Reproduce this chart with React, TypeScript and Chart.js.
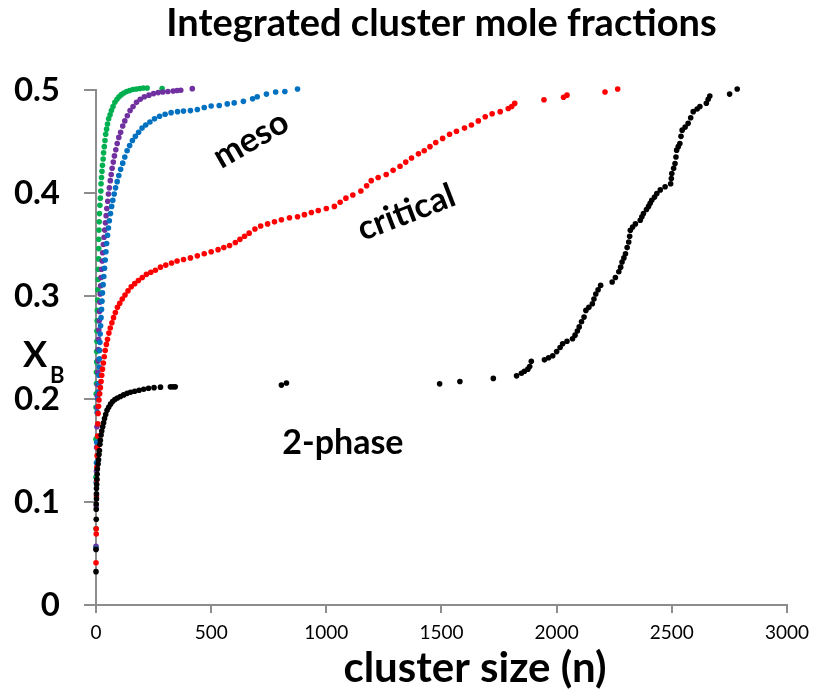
import React, { useEffect, useRef } from "react";
import { Chart, registerables } from "chart.js";

Chart.register(...registerables);

const TITLE = "Integrated cluster mole fractions";
const X_TITLE = "cluster size (n)";
const X_TICKS = [0, 500, 1000, 1500, 2000, 2500, 3000];
const Y_TICKS = [0, 0.1, 0.2, 0.3, 0.4, 0.5];

const greenX = [0, 0, 0, 0, 1, 2, 2, 3, 3, 4, 4, 5, 6, 7, 8, 9, 10, 11, 12, 12, 13, 14, 15, 17, 19, 21, 22, 24, 26, 28, 31, 33, 36, 39, 42, 46, 50, 55, 61, 67, 74, 82, 91, 100, 110, 121, 133, 146, 160, 175, 190, 205, 222, 287];
const greenY = [0.074, 0.124, 0.161, 0.192, 0.205, 0.215, 0.226, 0.236, 0.246, 0.256, 0.266, 0.276, 0.286, 0.296, 0.306, 0.316, 0.326, 0.336, 0.346, 0.355, 0.364, 0.372, 0.38, 0.388, 0.395, 0.402, 0.409, 0.415, 0.421, 0.427, 0.433, 0.439, 0.445, 0.451, 0.457, 0.462, 0.467, 0.472, 0.476, 0.48, 0.484, 0.488, 0.491, 0.4935, 0.4955, 0.497, 0.4985, 0.4995, 0.5005, 0.501, 0.5015, 0.502, 0.502, 0.5015];

const purpleX = [0, 1, 2, 3, 4, 5, 6, 7, 8, 9, 10, 11, 12, 14, 15, 17, 18, 20, 22, 24, 27, 29, 32, 35, 38, 41, 44, 47, 51, 54, 58, 62, 66, 70, 75, 80, 86, 92, 99, 107, 116, 125, 136, 148, 161, 176, 192, 210, 230, 250, 270, 290, 312, 335, 352, 368, 418];
const purpleY = [0.057, 0.096, 0.13, 0.153, 0.173, 0.192, 0.203, 0.214, 0.226, 0.237, 0.248, 0.258, 0.267, 0.276, 0.285, 0.294, 0.302, 0.31, 0.318, 0.326, 0.334, 0.342, 0.35, 0.357, 0.364, 0.371, 0.378, 0.385, 0.392, 0.399, 0.405, 0.412, 0.418, 0.424, 0.43, 0.436, 0.442, 0.448, 0.454, 0.459, 0.465, 0.47, 0.475, 0.48, 0.484, 0.488, 0.491, 0.4935, 0.495, 0.4965, 0.4975, 0.498, 0.4985, 0.499, 0.4995, 0.4997, 0.5013];

const blueX = [0, 1, 2, 3, 5, 8, 10, 12, 13, 14, 15, 16, 17, 18, 20, 22, 24, 26, 28, 31, 34, 37, 40, 43, 46, 50, 54, 58, 63, 68, 73, 79, 85, 92, 99, 107, 116, 125, 135, 146, 158, 171, 185, 200, 216, 234, 254, 276, 300, 326, 354, 380, 410, 440, 470, 500, 535, 570, 600, 640, 680, 700, 740, 780, 820, 875];
const blueY = [0.055, 0.119, 0.138, 0.158, 0.187, 0.2, 0.207, 0.215, 0.223, 0.231, 0.239, 0.247, 0.255, 0.263, 0.271, 0.279, 0.287, 0.295, 0.303, 0.311, 0.319, 0.327, 0.335, 0.343, 0.351, 0.359, 0.366, 0.373, 0.38, 0.387, 0.393, 0.399, 0.405, 0.411, 0.417, 0.423, 0.429, 0.435, 0.441, 0.446, 0.451, 0.455, 0.459, 0.463, 0.466, 0.469, 0.472, 0.4745, 0.4765, 0.478, 0.479, 0.4795, 0.48, 0.481, 0.483, 0.4845, 0.485, 0.4865, 0.4875, 0.489, 0.4915, 0.4935, 0.496, 0.498, 0.4985, 0.501];

const redX = [0, 1, 1, 2, 3, 4, 5, 6, 7, 8, 9, 11, 13, 16, 19, 22, 25, 28, 32, 36, 40, 45, 50, 56, 62, 69, 76, 84, 93, 103, 114, 126, 139, 153, 168, 184, 201, 219, 238, 258, 280, 303, 328, 352, 380, 410, 440, 470, 500, 530, 555, 580, 605, 625, 645, 665, 690, 715, 745, 775, 805, 840, 875, 905, 935, 965, 1000, 1035, 1060, 1085, 1115, 1150, 1175, 1195, 1225, 1260, 1290, 1320, 1345, 1370, 1400, 1425, 1450, 1475, 1505, 1535, 1565, 1600, 1630, 1660, 1690, 1720, 1755, 1790, 1805, 1818, 1945, 2030, 2045, 2210, 2265];
const redY = [0.041, 0.069, 0.074, 0.106, 0.121, 0.134, 0.145, 0.153, 0.164, 0.176, 0.186, 0.193, 0.199, 0.205, 0.211, 0.217, 0.223, 0.229, 0.235, 0.241, 0.247, 0.253, 0.258, 0.264, 0.269, 0.274, 0.279, 0.284, 0.289, 0.293, 0.297, 0.301, 0.305, 0.309, 0.312, 0.315, 0.318, 0.321, 0.323, 0.325, 0.328, 0.33, 0.332, 0.334, 0.3355, 0.337, 0.339, 0.341, 0.343, 0.345, 0.347, 0.349, 0.352, 0.355, 0.358, 0.361, 0.365, 0.368, 0.37, 0.372, 0.374, 0.376, 0.377, 0.379, 0.381, 0.383, 0.385, 0.387, 0.391, 0.395, 0.398, 0.402, 0.407, 0.412, 0.415, 0.418, 0.422, 0.426, 0.43, 0.434, 0.438, 0.441, 0.445, 0.449, 0.453, 0.457, 0.46, 0.463, 0.466, 0.47, 0.474, 0.477, 0.479, 0.482, 0.484, 0.487, 0.4905, 0.493, 0.495, 0.498, 0.501];

const blackX = [0, 0, 1, 1, 1, 2, 2, 2, 3, 4, 5, 6, 9, 11, 13, 15, 17, 19, 22, 25, 29, 33, 37, 42, 48, 55, 63, 72, 82, 93, 106, 120, 135, 150, 168, 187, 207, 228, 252, 280, 323, 334, 344, 805, 827, 1492, 1580, 1725, 1826, 1847, 1860, 1875, 1883, 1890, 1947, 1965, 1983, 2000, 2015, 2026, 2045, 2069, 2080, 2090, 2098, 2108, 2119, 2127, 2140, 2155, 2162, 2170, 2180, 2191, 2241, 2255, 2270, 2278, 2284, 2292, 2299, 2306, 2313, 2317, 2320, 2330, 2342, 2363, 2370, 2377, 2390, 2399, 2406, 2413, 2425, 2435, 2450, 2471, 2495, 2498, 2500, 2508, 2514, 2518, 2521, 2528, 2535, 2540, 2545, 2558, 2571, 2582, 2593, 2610, 2622, 2650, 2658, 2665, 2751, 2784];
const blackY = [0.0324, 0.054, 0.0833, 0.093, 0.098, 0.103, 0.108, 0.113, 0.117, 0.122, 0.127, 0.132, 0.137, 0.141, 0.146, 0.15, 0.156, 0.16, 0.165, 0.169, 0.173, 0.177, 0.181, 0.185, 0.189, 0.192, 0.195, 0.1975, 0.1995, 0.201, 0.2025, 0.204, 0.2055, 0.2065, 0.2075, 0.2085, 0.2095, 0.2105, 0.211, 0.2115, 0.2118, 0.2118, 0.2118, 0.2135, 0.2155, 0.2147, 0.217, 0.22, 0.2225, 0.225, 0.227, 0.229, 0.2315, 0.2367, 0.238, 0.24, 0.242, 0.246, 0.25, 0.2536, 0.256, 0.2585, 0.262, 0.266, 0.27, 0.275, 0.2795, 0.286, 0.289, 0.2925, 0.297, 0.302, 0.306, 0.3103, 0.3136, 0.318, 0.3236, 0.328, 0.333, 0.337, 0.341, 0.347, 0.3525, 0.358, 0.3638, 0.367, 0.37, 0.3735, 0.377, 0.38, 0.384, 0.387, 0.39, 0.3929, 0.396, 0.3994, 0.403, 0.406, 0.409, 0.414, 0.419, 0.424, 0.4287, 0.435, 0.4416, 0.445, 0.448, 0.455, 0.461, 0.464, 0.4676, 0.473, 0.479, 0.4815, 0.484, 0.4871, 0.491, 0.4942, 0.496, 0.501];

const LABELS = [
  { text: "meso", x: 672, y: 0.452, angle: -30 },
  { text: "critical", x: 1347, y: 0.381, angle: -21 },
  { text: "2-phase", x: 1072, y: 0.157, angle: 0 },
];

const FONT = "Lato, 'Open Sans', sans-serif";

function pts(xs: number[], ys: number[]) {
  return xs.map((x, i) => ({ x, y: ys[i] }));
}

const textPlugin = {
  id: "textPlugin",
  afterDraw(chart: any) {
    const { ctx, scales } = chart;
    const xs = scales.x;
    const ys = scales.y;
    ctx.save();
    ctx.fillStyle = "#000";
    // main title
    ctx.font = `bold 38px ${FONT}`;
    ctx.textAlign = "center";
    ctx.textBaseline = "alphabetic";
    ctx.fillText(TITLE, (xs.left + xs.right) / 2, 36);
    // x title
    ctx.font = `bold 42px ${FONT}`;
    ctx.fillText(X_TITLE, 475, 682);
    // y title X_B
    ctx.textAlign = "left";
    ctx.font = `bold 36px ${FONT}`;
    ctx.fillText("X", 23, 367);
    ctx.font = `bold 22px ${FONT}`;
    ctx.fillText("B", 50, 383);
    // annotations
    ctx.font = `bold 34px ${FONT}`;
    ctx.textAlign = "center";
    ctx.textBaseline = "middle";
    for (const l of LABELS) {
      const px = xs.getPixelForValue(l.x);
      const py = ys.getPixelForValue(l.y);
      ctx.save();
      ctx.translate(px, py);
      ctx.rotate((l.angle * Math.PI) / 180);
      ctx.fillText(l.text, 0, 0);
      ctx.restore();
    }
    ctx.restore();
  },
};

export default function App() {
  const ref = useRef<HTMLCanvasElement | null>(null);
  useEffect(() => {
    if (!ref.current) return;
    const mk = (data: any[], color: string) => ({
      data,
      backgroundColor: color,
      borderColor: color,
      pointRadius: 2.8,
      pointBorderWidth: 0,
      pointHoverRadius: 2.8,
      clip: false as any,
    });
    const chart = new Chart(ref.current, {
      type: "scatter",
      data: {
        datasets: [
          mk(pts(blackX, blackY), "#000000"),
          mk(pts(redX, redY), "#FF0000"),
          mk(pts(blueX, blueY), "#0070C0"),
          mk(pts(purpleX, purpleY), "#7030A0"),
          mk(pts(greenX, greenY), "#00B050"),
        ],
      },
      options: {
        animation: false,
        responsive: false,
        devicePixelRatio: 1,
        layout: { padding: { top: 90, right: 24, left: 0, bottom: 0 } },
        plugins: {
          legend: { display: false },
          tooltip: { enabled: false },
          title: { display: false },
        },
        scales: {
          x: {
            type: "linear",
            min: 0,
            max: 3000,
            afterBuildTicks: (s: any) => {
              s.ticks = X_TICKS.map((v) => ({ value: v }));
            },
            afterFit: (s: any) => {
              s.height = 93;
            },
            ticks: {
              callback: (v: any) => String(v),
              font: { family: FONT, size: 19 },
              color: "#000",
              padding: 8,
              maxRotation: 0,
            },
            grid: {
              drawOnChartArea: false,
              drawTicks: true,
              tickLength: 8,
              color: "#8c8c8c",
              lineWidth: 2,
            },
            border: { display: true, color: "#8c8c8c", width: 2 },
          },
          y: {
            type: "linear",
            min: 0,
            max: 0.5,
            afterBuildTicks: (s: any) => {
              s.ticks = Y_TICKS.map((v) => ({ value: v }));
            },
            afterFit: (s: any) => {
              s.width = 96;
            },
            ticks: {
              callback: (v: any) => String(v),
              font: { family: FONT, size: 33, weight: "bold" },
              color: "#000",
              padding: 24,
            },
            grid: {
              drawOnChartArea: false,
              drawTicks: true,
              tickLength: 12,
              color: "#8c8c8c",
              lineWidth: 2,
            },
            border: { display: true, color: "#8c8c8c", width: 2 },
          },
        },
      },
      plugins: [textPlugin],
    });
    return () => chart.destroy();
  }, []);
  return (
    <div style={{ position: "fixed", left: 0, top: 0, width: 817, height: 698, background: "#fff" }}>
      <canvas ref={ref} width={817} height={698} style={{ width: 817, height: 698, display: "block" }} />
    </div>
  );
}
